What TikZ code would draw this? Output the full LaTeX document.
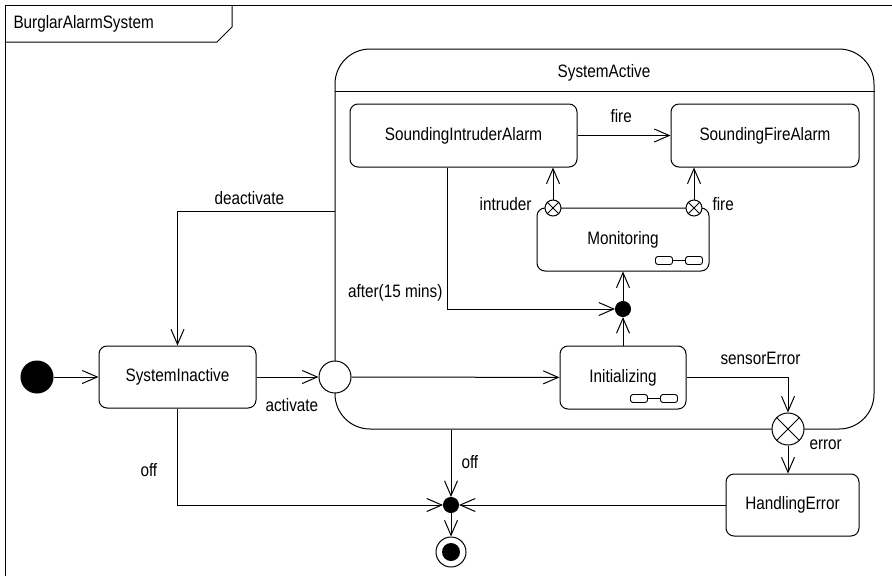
\documentclass[tikz,border=0pt]{standalone}
\usepackage{fontspec}
\setmainfont{Liberation Sans}[FakeStretch=0.85]
\usetikzlibrary{arrows.meta}
\begin{document}
\begin{tikzpicture}[x=1pt,y=-1pt, line width=1pt,
  every node/.style={font=\fontsize{18}{21}\selectfont, inner sep=0pt},
  st/.style={draw, rounded corners=8pt, minimum height=63pt},
  tr/.style={-{Straight Barb[length=15pt,width=13pt]}},
  pseudo/.style={draw, circle, fill=white},
  junc/.style={draw, circle, fill=black, minimum size=15pt},
  compicon/.pic={
    \draw[line width=0.9pt, rounded corners=2.5pt] (-47,-8) rectangle (-30,0) (-17,-8) rectangle (0,0);
    \draw[line width=0.9pt] (-30,-4) -- (-17,-4);
  }]
\useasboundingbox (0,0) rectangle (892,576);
% frame
\draw (5,576) -- (5,5) -- (892,5);
\draw (5,42) -- (217,42) -- (232,27) -- (232,5);
\node[anchor=base west] (title) at (13,28) {BurglarAlarmSystem};

% composite state
\node[draw, rounded corners=35pt, minimum width=539pt, minimum height=380pt] (active) at (604.5,239) {};
\draw ([yshift=-43pt]active.north west) -- ([yshift=-43pt]active.north east);
\node[anchor=base] (activetitle) at (604,77) {SystemActive};

% states
\node[st, minimum width=227pt] (sia) at (463.5,135.5) {SoundingIntruderAlarm};
\node[st, minimum width=188pt] (sfa) at (765,135.5) {SoundingFireAlarm};
\node[st, minimum width=172pt] (mon) at (623,239.5) {Monitoring};
\node[st, minimum width=126pt] (initz) at (623,377.5) {Initializing};
\node[st, minimum width=133pt, minimum height=62pt] (handling) at (792.5,505) {HandlingError};
\node[st, minimum width=157pt, minimum height=62pt] (inactive) at (177.5,377) {SystemInactive};
\pic at ([xshift=-7pt,yshift=7pt]mon.south east) {compicon};
\pic at ([xshift=-9pt,yshift=7pt]initz.south east) {compicon};

% pseudostates
\node[draw, circle, fill=black, minimum size=32pt] (init) at (37,377) {};
\node[pseudo, minimum size=32pt] (entry) at (335,377) {};
\node[pseudo, minimum size=32pt] (err) at (788,429) {};
\draw (err.45) -- (err.225) (err.135) -- (err.315);
\node[pseudo, minimum size=16pt] (ex1) at (553,208) {};
\draw (ex1.45) -- (ex1.225) (ex1.135) -- (ex1.315);
\node[pseudo, minimum size=16pt] (ex2) at (694,208) {};
\draw (ex2.45) -- (ex2.225) (ex2.135) -- (ex2.315);
\node[junc] (j1) at (623,309) {};
\node[junc] (j2) at (451,505) {};
\node[pseudo, minimum size=30pt] (final) at (451,552) {};
\node[circle, fill=black, minimum size=18pt] (finaldot) at (final) {};

% transitions
\draw[tr] (init) -- (inactive);
\draw[tr] (inactive) -- (entry);
\draw[tr] (entry) -- (initz);
\draw[tr] (initz) -- (j1);
\draw[tr] (j1) -- (mon);
\draw[tr] ([xshift=-16.5pt]sia.south) |- (j1);
\draw[tr] (ex1) -- (ex1 |- sia.south);
\draw[tr] (ex2) -- (ex2 |- sfa.south);
\draw[tr] (sia) -- (sfa);
\draw[tr] (initz) -| (err);
\draw[tr] (err) -- (err |- handling.north);
\draw[tr] (handling) -- (j2);
\draw[tr] (j2 |- active.south) -- (j2);
\draw[tr] (inactive) |- (j2);
\draw[tr] (j2) -- (final);
\draw[tr] ([yshift=28pt]active.west) -| (inactive);

% labels
\node[anchor=base west] (lfire1) at (610,122) {fire};
\node[anchor=base east] (lintr) at (532,210) {intruder};
\node[anchor=base west] (lfire2) at (712,210) {fire};
\node[anchor=base east] (lafter) at (443,297) {after(15 mins)};
\node[anchor=base west] (ldeact) at (214,204) {deactivate};
\node[anchor=base west] (lsens) at (720,364) {sensorError};
\node[anchor=base west] (lerr) at (809,449) {error};
\node[anchor=base west] (lact) at (265,411) {activate};
\node[anchor=base west] (loff1) at (140,476) {off};
\node[anchor=base west] (loff2) at (461,468) {off};
\end{tikzpicture}
\end{document}
